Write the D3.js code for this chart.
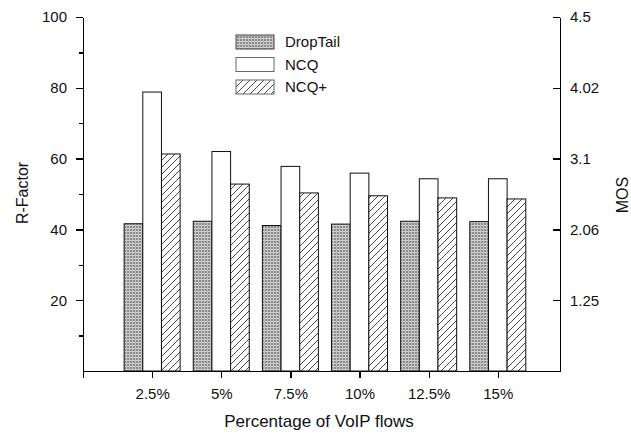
<!DOCTYPE html>
<html>
<head>
<meta charset="utf-8">
<script src="https://cdn.jsdelivr.net/npm/d3@7"></script>
<style>
  body { margin: 0; background: #fff; }
  text { font-family: "Liberation Sans", Arial, sans-serif; fill: #111; }
  .axis path, .axis line { stroke: #000; stroke-width: 1.3; shape-rendering: crispEdges; }
  .axis text { font-size: 15px; }
</style>
</head>
<body>
<script>
// datos
var categories = ["2.5%", "5%", "7.5%", "10%", "12.5%", "15%"];
var series = ["DropTail", "NCQ", "NCQ+"];
var dropTail = [41.6, 42.3, 41.1, 41.5, 42.3, 42.2];
var ncq      = [78.8, 62.0, 57.8, 55.9, 54.3, 54.3];
var ncqPlus  = [61.3, 52.8, 50.3, 49.5, 48.9, 48.6];
var rTicks = [20, 40, 60, 80, 100];
var rMinor = [10, 30, 50, 70, 90];
var mosLabels = ["1.25", "2.06", "3.1", "4.02", "4.5"];

var W = 631, H = 437;
var mLeft = 83, mRight = 560, mTop = 17, mBottom = 371;

var svg = d3.select("body").append("svg")
    .attr("width", W).attr("height", H);

// patrones de relleno
var defs = svg.append("defs");
var grid = defs.append("pattern").attr("id", "grid")
    .attr("width", 3).attr("height", 3).attr("patternUnits", "userSpaceOnUse");
grid.append("rect").attr("width", 3).attr("height", 3).attr("fill", "#8c8c8c");
grid.append("rect").attr("width", 3).attr("height", 1).attr("fill", "#d4d4d4");
grid.append("rect").attr("width", 1).attr("height", 3).attr("fill", "#c4c4c4");

var hatch = defs.append("pattern").attr("id", "hatch")
    .attr("width", 7).attr("height", 7).attr("patternUnits", "userSpaceOnUse");
hatch.append("rect").attr("width", 7).attr("height", 7).attr("fill", "#fff");
hatch.append("path").attr("d", "M-1,8 L8,-1 M-2,2 L2,-2 M5,9 L9,5")
    .attr("stroke", "#333").attr("stroke-width", 0.9);

var fills = ["url(#grid)", "#fff", "url(#hatch)"];

// escalas
var x = d3.scaleLinear().domain([0, 6.9]).range([mLeft, mRight]);
var y = d3.scaleLinear().domain([0, 100]).range([mBottom, mTop]);
var barW = 0.27;

var data = [];
categories.forEach(function(c, i) {
    [dropTail, ncq, ncqPlus].forEach(function(s, j) {
        data.push({cat: i + 1, s: j, v: s[i]});
    });
});

// barras
svg.append("g").selectAll("rect").data(data).enter().append("rect")
    .attr("x", function(d) { return x(d.cat + (d.s - 1.5) * barW); })
    .attr("width", x(barW) - x(0))
    .attr("y", function(d) { return y(d.v); })
    .attr("height", function(d) { return y(0) - y(d.v); })
    .attr("fill", function(d) { return fills[d.s]; })
    .attr("stroke", "#111").attr("stroke-width", 1);

// eje X
svg.append("g").attr("class", "axis")
    .attr("transform", "translate(0," + mBottom + ")")
    .call(d3.axisBottom(x).tickValues([0, 1, 2, 3, 4, 5, 6])
        .tickSize(7).tickSizeOuter(0).tickPadding(10)
        .tickFormat(function(d) { return d === 0 ? "" : categories[d - 1]; }));

// eje Y izquierdo
svg.append("g").attr("class", "axis")
    .attr("transform", "translate(" + mLeft + ",0)")
    .call(d3.axisLeft(y).tickValues(rTicks).tickSize(7).tickSizeOuter(0).tickPadding(9));
svg.append("g").attr("class", "axis")
    .attr("transform", "translate(" + mLeft + ",0)")
    .call(d3.axisLeft(y).tickValues(rMinor).tickSize(4).tickSizeOuter(0).tickFormat(""));

// eje Y derecho (MOS)
svg.append("g").attr("class", "axis")
    .attr("transform", "translate(" + mRight + ",0)")
    .call(d3.axisRight(y).tickValues(rTicks).tickSize(-7).tickSizeOuter(0).tickPadding(10)
        .tickFormat(function(d, i) { return mosLabels[i]; }));

// titulos
svg.append("text").attr("transform", "translate(22,193) rotate(-90)")
    .attr("text-anchor", "middle").attr("dy", "0.35em").style("font-size", "16px").text("R-Factor");
svg.append("text").attr("transform", "translate(622,195) rotate(-90)")
    .attr("text-anchor", "middle").attr("dy", "0.35em").style("font-size", "16px").text("MOS");
svg.append("text").attr("x", 319).attr("y", 421)
    .attr("text-anchor", "middle").attr("dy", "0.35em").style("font-size", "17px").text("Percentage of VoIP flows");

// leyenda
var lg = svg.append("g").selectAll("g").data(series).enter().append("g")
    .attr("transform", function(d, i) { return "translate(236," + (35 + i * 22.5) + ")"; });
lg.append("rect").attr("width", 38).attr("height", 14)
    .attr("fill", function(d, i) { return fills[i]; })
    .attr("stroke", function(d, i) { return i === 0 ? "#444" : "#666"; }).attr("stroke-width", 1);
lg.append("text").attr("x", 49).attr("y", 7).attr("dy", "0.35em")
    .style("font-size", "15px").text(function(d) { return d; });
</script>
</body>
</html>
